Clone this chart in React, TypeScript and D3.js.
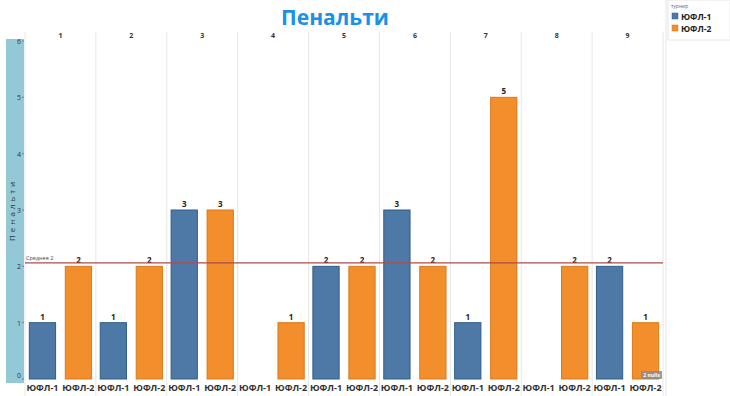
import * as d3 from "d3";

// data
const rounds = ["1", "2", "3", "4", "5", "6", "7", "8", "9"];
const tournaments = ["ЮФЛ-1", "ЮФЛ-2"];
const penalties1: (number | null)[] = [1, 1, 3, null, 2, 3, 1, null, 2];
const penalties2: (number | null)[] = [2, 2, 3, 1, 2, 2, 5, 2, 1];
const yTicks = [0, 1, 2, 3, 4, 5, 6];

const colors = ["#4e79a7", "#f28e2b"];
const strokes = ["#2d5f8c", "#d97a1c"];

export default function App() {
  const width = 730;
  const height = 396;
  const left = 25;
  const right = 663;
  const top = 41;
  const bottom = 379;

  const x = d3.scaleBand<string>().domain(rounds).range([left, right]);
  const xi = d3
    .scaleBand<string>()
    .domain(tournaments)
    .range([0, x.bandwidth()])
    .paddingInner(0.27)
    .paddingOuter(0.12);
  const y = d3.scaleLinear().domain([0, 6]).range([bottom, top]);

  const series = [penalties1, penalties2];
  const allVals = series.flat().filter((v): v is number => v != null);
  const avg = d3.mean(allVals) ?? 0;

  const font = "'Open Sans', 'DejaVu Sans', sans-serif";

  return (
    <svg
      width={width}
      height={height}
      style={{ position: "absolute", left: 0, top: 0, background: "#fff" }}
      fontFamily={font}
    >
      {/* title */}
      <text
        x={335}
        y={25}
        textAnchor="middle"
        fontSize={21}
        fontWeight={700}
        fill="#1a91e6"
      >
        Пенальти
      </text>

      {/* axis strip */}
      <rect x={6} y={39} width={18} height={344} fill="#93c9d7" />
      <text
        transform={`translate(15,${(top + bottom) / 2}) rotate(-90)`}
        textAnchor="middle"
        fontSize={8}
        letterSpacing={3}
        fill="#1f3440"
      >
        Пенальти
      </text>
      {yTicks.map((t) => (
        <g key={t}>
          <text
            x={21}
            y={y(t) + (t === 0 ? -1 : 3)}
            textAnchor="end"
            fontSize={7}
            fill="#333"
          >
            {t}
          </text>
          <line x1={22} x2={24} y1={y(t)} y2={y(t)} stroke="#555" strokeWidth={0.6} />
        </g>
      ))}

      {/* column separators */}
      {rounds.map((r) => (
        <line
          key={r}
          x1={x(r)!}
          x2={x(r)!}
          y1={32}
          y2={396}
          stroke="#e6e6e6"
          strokeWidth={1}
        />
      ))}
      <line x1={right} x2={right} y1={32} y2={396} stroke="#e6e6e6" />
      <line x1={right + 3} x2={right + 3} y1={0} y2={396} stroke="#e6e6e6" />

      {/* round labels */}
      {rounds.map((r) => (
        <text
          key={r}
          x={x(r)! + x.bandwidth() / 2}
          y={38}
          textAnchor="middle"
          fontSize={7}
          fontWeight={700}
          fill="#333"
        >
          {r}
        </text>
      ))}

      {/* bars */}
      {rounds.map((r, i) =>
        tournaments.map((tn, j) => {
          const v = series[j][i];
          const bx = x(r)! + xi(tn)!;
          return (
            <g key={r + tn}>
              {v != null && (
                <>
                  <rect
                    x={bx}
                    y={y(v)}
                    width={xi.bandwidth()}
                    height={bottom - y(v)}
                    fill={colors[j]}
                    stroke={strokes[j]}
                    strokeWidth={1}
                  />
                  <text
                    x={bx + xi.bandwidth() / 2}
                    y={y(v) - 3}
                    textAnchor="middle"
                    fontSize={8}
                    fontWeight={700}
                    fill="#222"
                  >
                    {v}
                  </text>
                </>
              )}
              <text
                x={bx + xi.bandwidth() / 2}
                y={391}
                textAnchor="middle"
                fontSize={9}
                fontWeight={700}
                fill="#333"
              >
                {tn}
              </text>
            </g>
          );
        })
      )}

      {/* average line */}
      <line
        x1={left}
        x2={right}
        y1={y(avg)}
        y2={y(avg)}
        stroke="#b04a4a"
        strokeWidth={1.2}
      />
      <text x={left + 1} y={y(avg) - 3} fontSize={5.5} fill="#444">
        Среднее 2
      </text>

      {/* nulls badge */}
      <rect x={641} y={371} width={21} height={8} fill="#8c8c8c" opacity={0.85} />
      <text x={651.5} y={377} textAnchor="middle" fontSize={5} fontWeight={700} fill="#fff">
        2 nulls
      </text>

      {/* legend */}
      <rect x={668} y={0} width={62} height={40} fill="#fff" stroke="#e6e6e6" />
      <text x={671} y={8} fontSize={5} fill="#666">
        турнир
      </text>
      {tournaments.map((tn, j) => (
        <g key={tn} transform={`translate(672,${16.5 + j * 12})`}>
          <rect x={0} y={-3.5} width={6} height={6} fill={colors[j]} stroke={strokes[j]} strokeWidth={0.5} />
          <text x={9} y={3} fontSize={8.5} fontWeight={700} fill="#222">
            {tn}
          </text>
        </g>
      ))}
    </svg>
  );
}
